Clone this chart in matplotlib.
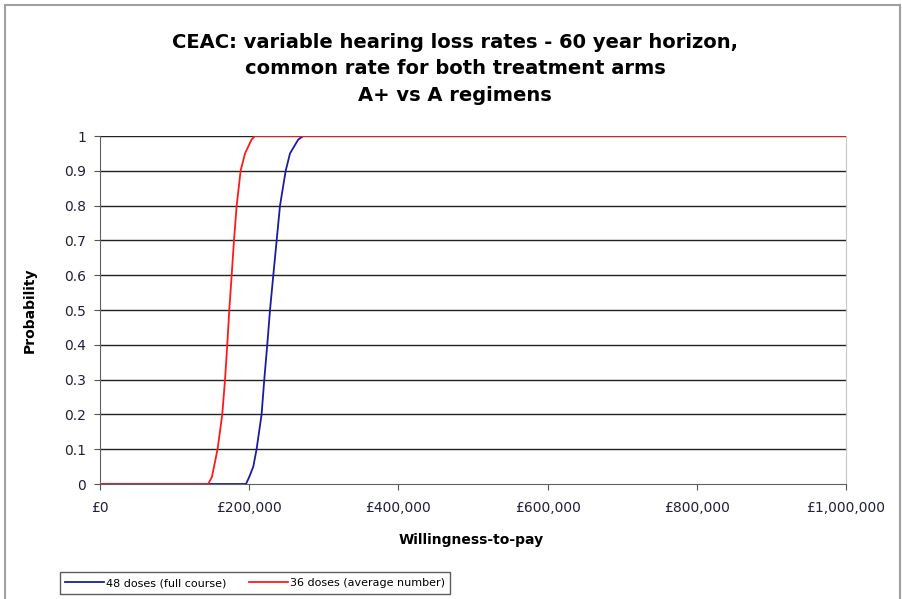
import matplotlib.pyplot as plt
from matplotlib.patches import Rectangle
from matplotlib.ticker import FuncFormatter

# CEAC curves (willingness-to-pay in £, probability)
wtp_48 = [0, 195700, 200000, 205500, 209900, 216600, 220200, 224200, 227900,
          232300, 236800, 241300, 248900, 254700, 265800, 272400, 292000]
prob_48 = [0, 0, 0.02, 0.05, 0.1, 0.2, 0.3, 0.4, 0.5,
           0.6, 0.7, 0.8, 0.9, 0.95, 0.99, 1.0, 1.0]

wtp_36 = [0, 145000, 150000, 157600, 163900, 167600, 170600, 173300, 176500,
          179600, 183200, 188500, 194400, 203200, 207800, 1000000]
prob_36 = [0, 0, 0.02, 0.1, 0.2, 0.3, 0.4, 0.5, 0.6,
           0.7, 0.8, 0.9, 0.95, 0.99, 1.0, 1.0]

series_labels = ["48 doses (full course)", "36 doses (average number)"]
x_ticks = [0, 200000, 400000, 600000, 800000, 1000000]
y_ticks = [0, 0.1, 0.2, 0.3, 0.4, 0.5, 0.6, 0.7, 0.8, 0.9, 1]

title = ("CEAC: variable hearing loss rates - 60 year horizon,\n"
         "common rate for both treatment arms\n"
         "A+ vs A regimens")

fig = plt.figure(figsize=(9.02, 5.99), dpi=100)
fig.patches.append(Rectangle((5 / 902, -0.05), 895 / 902, 1.05 - 5 / 599,
                             transform=fig.transFigure, fill=False,
                             edgecolor="#a0a0a0", linewidth=1.5))

ax = fig.add_axes([100 / 902, 1 - 484 / 599, 746 / 902, 348 / 599])

ax.plot(wtp_48, prob_48, color="#1c1ca0", linewidth=1.3, label=series_labels[0], zorder=3)
ax.plot(wtp_36, prob_36, color="#ff1a1a", linewidth=1.3, label=series_labels[1], zorder=4)

ax.set_xlim(0, 1000000)
ax.set_ylim(0, 1)
ax.set_xticks(x_ticks)
ax.set_yticks(y_ticks)
ax.xaxis.set_major_formatter(FuncFormatter(lambda v, _: f"£{v:,.0f}"))
ax.yaxis.set_major_formatter(FuncFormatter(lambda v, _: f"{v:g}"))
ax.tick_params(axis="both", labelsize=10, labelcolor="#20203a", direction="out",
               length=4, color="#555555")
ax.tick_params(axis="y", pad=6)
ax.tick_params(axis="x", pad=8)

for yv in y_ticks[1:]:
    ax.axhline(yv, color="#222222", linewidth=1, zorder=1)

ax.spines["top"].set_visible(False)
ax.spines["right"].set_color("#c8c8c8")
ax.spines["left"].set_color("#606060")
ax.spines["bottom"].set_color("#606060")

fig.text(455 / 902, 1 - 69 / 599, title, ha="center", va="center",
         fontsize=14, fontweight="bold", linespacing=1.48)
fig.text(30 / 902, 1 - 310 / 599, "Probability", rotation=90, ha="center",
         va="center", fontsize=10, fontweight="bold")
fig.text(471 / 902, 1 - 540 / 599, "Willingness-to-pay", ha="center",
         va="center", fontsize=10, fontweight="bold")

fig.legend(loc="center", bbox_to_anchor=(255 / 902, 1 - 583 / 599), ncol=2,
           fontsize=8, frameon=True, fancybox=False, edgecolor="#333333",
           handlelength=3.5, columnspacing=2.0, borderpad=0.5, handletextpad=0.2)

fig.savefig("out.png", dpi=100)
